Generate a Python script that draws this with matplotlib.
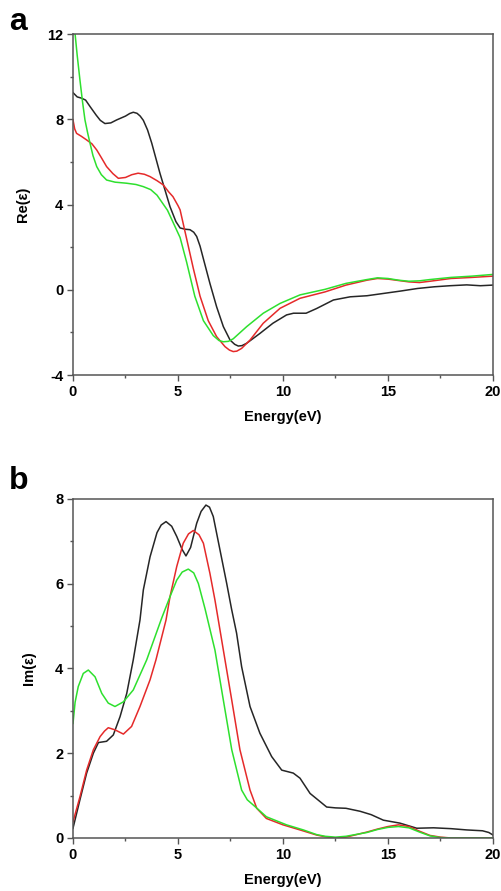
import numpy as np
import matplotlib.pyplot as plt
from matplotlib.ticker import MultipleLocator

plt.rcParams['font.family'] = ['Liberation Sans', 'DejaVu Sans']
plt.rcParams['font.weight'] = 'bold'
plt.rcParams['axes.unicode_minus'] = False

# Re(eps) curves
e_re_black = [0, 0.2, 0.41, 0.6, 0.81, 1.1, 1.3, 1.52, 1.8, 2.08, 2.5, 2.7, 2.87, 3.05, 3.2, 3.35, 3.55,
              3.75, 4.14, 4.62, 4.9, 5.1, 5.35, 5.57, 5.75, 5.89, 6.05, 6.21, 6.52, 6.84, 7.16, 7.48,
              7.7, 7.87, 8.05, 8.27, 8.9, 9.52, 10.17, 10.5, 10.81, 11.1, 11.6, 12.4, 13.2, 14.0,
              14.8, 15.6, 16.4, 17.2, 17.95, 18.75, 19.4, 20]
re_black = [9.25, 9.05, 8.99, 8.9, 8.6, 8.2, 7.95, 7.8, 7.83, 7.97, 8.15, 8.27, 8.33, 8.28, 8.15, 7.95, 7.5,
            6.88, 5.47, 3.9, 3.2, 2.9, 2.84, 2.82, 2.7, 2.5, 2.05, 1.45, 0.3, -0.8, -1.73, -2.36,
            -2.56, -2.64, -2.62, -2.51, -2.05, -1.57, -1.18, -1.1, -1.1, -1.1, -0.88, -0.48, -0.33, -0.28,
            -0.17, -0.06, 0.06, 0.14, 0.19, 0.23, 0.19, 0.22]

e_re_red = [0, 0.08, 0.17, 0.4, 0.65, 0.9, 1.13, 1.35, 1.6, 1.9, 2.16, 2.5, 2.8, 3.1, 3.4, 3.67, 4.0,
            4.3, 4.55, 4.76, 5.0, 5.1, 5.41, 5.73, 6.05, 6.44, 6.84, 7.24, 7.45, 7.63, 7.8, 8.03, 8.43,
            9.06, 9.86, 10.81, 12, 13, 14, 14.5, 15, 16, 16.5, 17, 18, 19, 20]
re_red = [7.97, 7.55, 7.34, 7.2, 7.03, 6.85, 6.56, 6.2, 5.78, 5.45, 5.23, 5.27, 5.4, 5.47, 5.42, 5.31, 5.12,
          4.92, 4.6, 4.37, 3.95, 3.75, 2.4, 1.0, -0.3, -1.45, -2.2, -2.67, -2.83, -2.9, -2.88, -2.75, -2.36,
          -1.57, -0.87, -0.4, -0.1, 0.22, 0.45, 0.53, 0.5, 0.37, 0.34, 0.4, 0.53, 0.58, 0.64]

e_re_green = [0, 0.1, 0.2, 0.33, 0.45, 0.57, 0.7, 0.81, 0.95, 1.13, 1.35, 1.6, 2.0, 2.55, 3.0, 3.35, 3.7,
              4.0, 4.5, 5.1, 5.41, 5.8, 6.21, 6.68, 6.95, 7.16, 7.4, 7.63, 8.27, 9.06, 9.86, 10.81, 12,
              13, 14, 14.5, 15, 15.5, 16, 16.5, 17, 18, 19, 20]
re_green = [12.5, 12.0, 11.0, 9.85, 8.85, 7.97, 7.35, 6.88, 6.3, 5.78, 5.4, 5.15, 5.05, 5.0, 4.94, 4.84, 4.7,
            4.44, 3.73, 2.45, 1.3, -0.3, -1.45, -2.15, -2.38, -2.44, -2.42, -2.3, -1.73, -1.1, -0.64, -0.24,
            0.02, 0.3, 0.48, 0.56, 0.53, 0.45, 0.4, 0.42, 0.48, 0.58, 0.64, 0.72]

# Im(eps) curves
e_im_black = [0, 0.33, 0.65, 0.97, 1.21, 1.6, 1.92, 2.24, 2.56, 2.87, 3.19, 3.35, 3.67, 4.0, 4.2, 4.43,
              4.7, 4.94, 5.2, 5.38, 5.6, 5.89, 6.1, 6.33, 6.5, 6.68, 7.0, 7.32, 7.55, 7.79, 8.03, 8.43,
              8.9, 9.46, 9.94, 10.49, 10.81, 11.29, 11.76, 12.08, 12.5, 13.0, 13.67, 14.2, 14.78, 15.57,
              16.37, 17.17, 18.0, 18.75, 19.5, 19.8, 20]
im_black = [0.23, 0.9, 1.53, 2.0, 2.25, 2.28, 2.43, 2.86, 3.41, 4.2, 5.14, 5.85, 6.63, 7.2, 7.38, 7.46,
            7.35, 7.11, 6.8, 6.65, 6.85, 7.42, 7.7, 7.85, 7.8, 7.58, 6.79, 6.0, 5.4, 4.83, 4.04, 3.1,
            2.47, 1.92, 1.6, 1.53, 1.41, 1.05, 0.86, 0.73, 0.71, 0.7, 0.63, 0.55, 0.42, 0.35,
            0.23, 0.24, 0.22, 0.19, 0.17, 0.13, 0.07]

e_im_red = [0, 0.33, 0.65, 0.97, 1.29, 1.5, 1.68, 2.0, 2.4, 2.79, 3.19, 3.67, 3.95, 4.43, 4.62, 4.94, 5.25,
            5.5, 5.73, 6.0, 6.21, 6.52, 6.76, 6.92, 7.16, 7.56, 7.95, 8.43, 8.75, 9.21, 10.0, 10.81, 11.6,
            12.0, 12.5, 13, 13.5, 14, 14.5, 15, 15.5, 16, 16.5, 17, 17.5, 18, 20]
im_red = [0.38, 0.97, 1.6, 2.08, 2.39, 2.52, 2.6, 2.55, 2.45, 2.63, 3.1, 3.73, 4.2, 5.14, 5.69, 6.4, 6.95,
          7.17, 7.25, 7.15, 6.95, 6.24, 5.61, 5.14, 4.43, 3.25, 2.08, 1.13, 0.7, 0.46, 0.31, 0.19, 0.07,
          0.03, 0.0, 0.02, 0.08, 0.14, 0.21, 0.27, 0.31, 0.27, 0.16, 0.06, 0.02, 0.0, 0.0]

e_im_green = [0, 0.1, 0.25, 0.49, 0.73, 1.05, 1.37, 1.68, 2.0, 2.4, 2.87, 3.51, 4.22, 4.62, 4.94, 5.2,
              5.49, 5.75, 5.97, 6.29, 6.76, 7.16, 7.56, 8.03, 8.3, 8.67, 9.21, 10.17, 10.97, 11.6, 12.0,
              12.5, 13, 14, 14.5, 15, 15.5, 16, 16.5, 17, 17.5, 18, 20]
im_green = [2.7, 3.2, 3.57, 3.88, 3.96, 3.8, 3.41, 3.18, 3.1, 3.21, 3.49, 4.2, 5.18, 5.69, 6.08, 6.27,
            6.34, 6.25, 6.0, 5.4, 4.43, 3.25, 2.08, 1.13, 0.9, 0.74, 0.5, 0.31, 0.19, 0.08, 0.04,
            0.02, 0.04, 0.13, 0.2, 0.25, 0.27, 0.24, 0.14, 0.05, 0.01, 0.0, 0.0]

c_black = '#262626'
c_red = '#e52a2a'
c_green = '#2ee02e'

fig = plt.figure(figsize=(5.01, 8.91), dpi=100)
ax1 = fig.add_axes([0.1457, 0.5791, 0.8383, 0.3827])
ax2 = fig.add_axes([0.1457, 0.0595, 0.8383, 0.3808])


def style(ax):
    for s in ax.spines.values():
        s.set_color('#555555')
        s.set_linewidth(1.1)
    ax.xaxis.set_major_locator(MultipleLocator(5))
    ax.xaxis.set_minor_locator(MultipleLocator(2.5))
    ax.tick_params(which='major', direction='out', length=4, width=1, color='#555555',
                   labelsize=10.5, pad=3)
    ax.tick_params(which='minor', direction='out', length=2, width=1, color='#555555')
    for lab in ax.get_xticklabels() + ax.get_yticklabels():
        lab.set_fontweight('bold')
    ax.set_xlim(0, 20)
    ax.set_xlabel('Energy(eV)', fontsize=10.5, fontweight='bold', labelpad=8)


ax1.plot(e_re_black, re_black, color=c_black, lw=1.1)
ax1.plot(e_re_red, re_red, color=c_red, lw=1.1)
ax1.plot(e_re_green, re_green, color=c_green, lw=1.1)
ax1.set_ylim(-4, 12)
ax1.yaxis.set_major_locator(MultipleLocator(4))
ax1.yaxis.set_minor_locator(MultipleLocator(2))
ax1.set_ylabel('Re(ε)', fontsize=10.5, fontweight='bold', labelpad=12)
style(ax1)

ax2.plot(e_im_black, im_black, color=c_black, lw=1.1)
ax2.plot(e_im_red, im_red, color=c_red, lw=1.1)
ax2.plot(e_im_green, im_green, color=c_green, lw=1.1)
ax2.set_ylim(0, 8)
ax2.yaxis.set_major_locator(MultipleLocator(2))
ax2.yaxis.set_minor_locator(MultipleLocator(1))
ax2.set_ylabel('Im(ε)', fontsize=10.5, fontweight='bold', labelpad=14)
style(ax2)

fig.text(0.018, 0.975, 'a', fontsize=23, fontweight='bold', va='center', ha='left')
fig.text(0.018, 0.46, 'b', fontsize=23, fontweight='bold', va='center', ha='left')

fig.savefig('out.png', dpi=100)
